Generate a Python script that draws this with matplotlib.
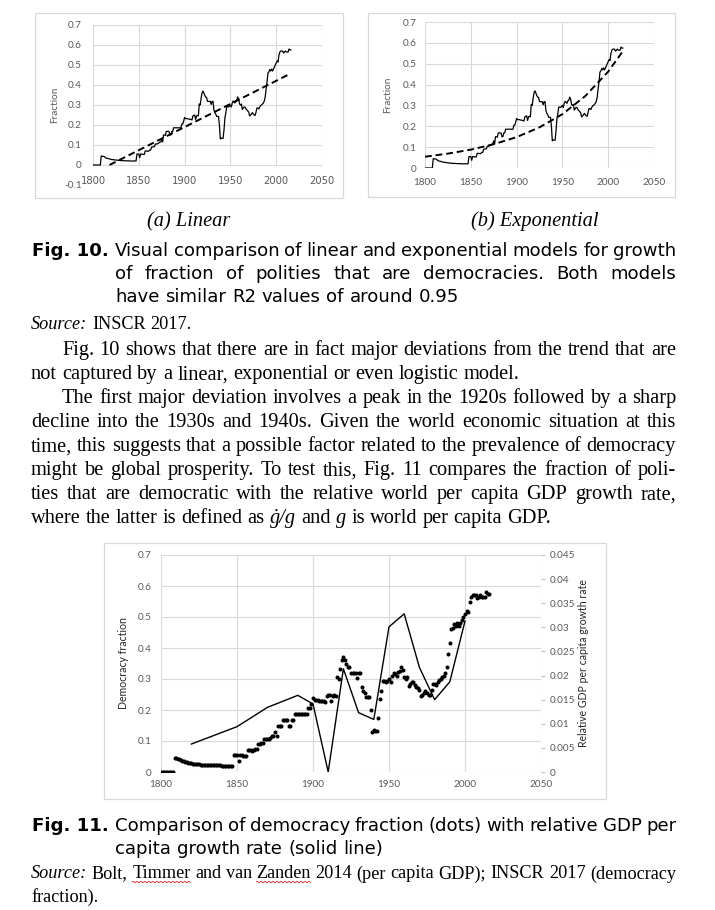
import numpy as np
import matplotlib
matplotlib.use("Agg")
import matplotlib.pyplot as plt
from matplotlib.patches import Rectangle
from matplotlib.lines import Line2D

# ---------------- data ----------------
years = list(range(1800, 2017))
democracy_fraction = [
    # 1800-1809
    0, 0, 0, 0, 0, 0, 0, 0, 0, 0.045,
    # 1810-1819
    0.044, 0.043, 0.043, 0.040, 0.035, 0.034, 0.033, 0.032, 0.030, 0.029,
    # 1820-1829
    0.028, 0.027, 0.027, 0.026, 0.025, 0.025, 0.024, 0.024, 0.023, 0.023,
    # 1830-1839
    0.022, 0.022, 0.022, 0.022, 0.021, 0.021, 0.021, 0.021, 0.021, 0.021,
    # 1840-1849
    0.020, 0.020, 0.020, 0.020, 0.020, 0.020, 0.020, 0.020, 0.055, 0.055,
    # 1850-1859
    0.055, 0.037, 0.055, 0.055, 0.053, 0.053, 0.053, 0.070, 0.070, 0.070,
    # 1860-1869
    0.068, 0.070, 0.075, 0.075, 0.090, 0.090, 0.092, 0.092, 0.105, 0.105,
    # 1870-1879
    0.105, 0.108, 0.110, 0.115, 0.115, 0.130, 0.115, 0.150, 0.150, 0.148,
    # 1880-1889
    0.168, 0.168, 0.168, 0.168, 0.150, 0.150, 0.168, 0.168, 0.186, 0.186,
    # 1890-1899
    0.186, 0.186, 0.186, 0.186, 0.186, 0.186, 0.186, 0.205, 0.205, 0.220,
    # 1900-1909
    0.238, 0.232, 0.232, 0.232, 0.230, 0.230, 0.228, 0.228, 0.225, 0.245,
    # 1910-1919
    0.248, 0.250, 0.228, 0.245, 0.248, 0.245, 0.305, 0.300, 0.333, 0.360,
    # 1920-1929
    0.370, 0.360, 0.348, 0.340, 0.338, 0.318, 0.318, 0.318, 0.318, 0.303,
    # 1930-1939
    0.318, 0.318, 0.275, 0.262, 0.255, 0.243, 0.243, 0.243, 0.200, 0.130,
    # 1940-1949
    0.135, 0.133, 0.133, 0.175, 0.235, 0.260, 0.292, 0.292, 0.290, 0.295,
    # 1950-1959
    0.300, 0.290, 0.310, 0.320, 0.315, 0.310, 0.322, 0.325, 0.340, 0.330,
    # 1960-1969
    0.305, 0.300, 0.305, 0.278, 0.285, 0.290, 0.290, 0.280, 0.275, 0.270,
    # 1970-1979
    0.265, 0.245, 0.250, 0.255, 0.262, 0.255, 0.250, 0.248, 0.265, 0.285,
    # 1980-1989
    0.285, 0.280, 0.290, 0.298, 0.300, 0.305, 0.310, 0.320, 0.340, 0.380,
    # 1990-1999
    0.415, 0.460, 0.465, 0.478, 0.470, 0.480, 0.470, 0.480, 0.490, 0.500,
    # 2000-2009
    0.510, 0.520, 0.515, 0.550, 0.565, 0.570, 0.570, 0.570, 0.560, 0.565,
    # 2010-2016
    0.570, 0.565, 0.565, 0.565, 0.580, 0.575, 0.575,
]
assert len(democracy_fraction) == len(years)

# linear trend (Fig. 10a), read at its ends
linear_trend_years = [1818, 2016]
linear_trend_values = [0.0, 0.458]
# exponential trend (Fig. 10b), read at several years
exp_trend_years = [1800, 1825, 1850, 1875, 1900, 1925, 1950, 1975, 2000, 2016]
exp_trend_values = [0.054, 0.069, 0.088, 0.114, 0.148, 0.195, 0.258, 0.345, 0.462, 0.560]

# relative world per capita GDP growth rate (Fig. 11, right axis)
gdp_years = [1820, 1850, 1870, 1890, 1900, 1910, 1920, 1930, 1940, 1950, 1960, 1970, 1980, 1990, 2000]
gdp_growth = [0.0058, 0.0094, 0.0134, 0.0159, 0.0141, 0.0, 0.0214, 0.0123, 0.0109, 0.0301, 0.0328,
              0.0217, 0.0150, 0.0187, 0.0313]

x_ticks = [1800, 1850, 1900, 1950, 2000, 2050]
x_tick_labels = ["1800", "1850", "1900", "1950", "2000", "2050"]
frac_ticks = [-0.1, 0, 0.1, 0.2, 0.3, 0.4, 0.5, 0.6, 0.7]
frac_tick_labels = ["-0.1", "0", "0.1", "0.2", "0.3", "0.4", "0.5", "0.6", "0.7"]
gdp_ticks = [0, 0.005, 0.01, 0.015, 0.02, 0.025, 0.03, 0.035, 0.04, 0.045]
gdp_tick_labels = ["0", "0.005", "0.01", "0.015", "0.02", "0.025", "0.03", "0.035", "0.04", "0.045"]

# ---------------- page ----------------
W, H = 715, 910
fig = plt.figure(figsize=(W / 100, H / 100), dpi=100)
fig.patch.set_facecolor("white")
R = fig.canvas.get_renderer()

GRID = "#D9D9D9"
TXT = "#595959"
CHART_FONT = "Lato"


def axes_px(x0, y0, x1, y1):
    return fig.add_axes([x0 / W, 1 - y1 / H, (x1 - x0) / W, (y1 - y0) / H])


def box(x0, y0, x1, y1):
    fig.add_artist(Rectangle((x0 / W, 1 - y1 / H), (x1 - x0) / W, (y1 - y0) / H,
                             transform=fig.transFigure, fill=False, ec=GRID, lw=0.9))


def tw(s, **kw):
    t = fig.text(0, 0, s, **kw)
    w = t.get_window_extent(R).width
    t.remove()
    return w


def baseline(yc, fs):
    return yc + 0.30 * fs * 100 / 72


def line(words, x0, x1, yc, justify, kw):
    yb = baseline(yc, kw["fontsize"])
    ws = [tw(w, **{**kw, **e}) for w, e in words]
    if justify and len(words) > 1:
        gap = (x1 - x0 - sum(ws)) / (len(words) - 1)
    else:
        gap = tw("a a", **kw) - tw("aa", **kw)
    x = x0
    pos = []
    for (w, e), wd in zip(words, ws):
        fig.text(x / W, 1 - yb / H, w, ha="left", va="baseline", **{**kw, **e})
        pos.append((x, wd, yb))
        x += wd + gap
    return pos


def plain(s):
    return [(w, {}) for w in s.split()]


def style_chart(ax, ylabels_ticks, ylabels):
    for s in ax.spines.values():
        s.set_visible(False)
    ax.set_xticks(x_ticks, x_tick_labels)
    ax.set_yticks(ylabels_ticks, ylabels)
    for lab in ax.get_xticklabels() + ax.get_yticklabels():
        lab.set_fontfamily(CHART_FONT)
    ax.tick_params(length=0, labelsize=7.2, labelcolor=TXT)


# ---------- Fig. 10 (a) ----------
box(35, 13, 343, 198)
axa = axes_px(93, 25, 322, 185)
axa.set_xlim(1800, 2050)
axa.set_ylim(-0.1, 0.7)
for v in frac_ticks[1:]:
    axa.axhline(v, color=GRID, lw=0.8, zorder=0)
axa.vlines(x_ticks, 0, 0.7, color=GRID, lw=0.8, zorder=0)
axa.plot(years, democracy_fraction, color="black", lw=0.9)
axa.plot(linear_trend_years, linear_trend_values, color="black", lw=1.4, ls=(0, (3.5, 2)))
style_chart(axa, frac_ticks, frac_tick_labels)
axa.spines["bottom"].set_position(("data", 0))
axa.tick_params(axis="x", pad=8)
axa.tick_params(axis="y", pad=8)
axa.set_ylabel("Fraction", fontsize=7.2, color=TXT, family=CHART_FONT)
axa.yaxis.set_label_coords(-0.15, 0.5)

# ---------- Fig. 10 (b) ----------
box(368, 13, 675, 197)
axb = axes_px(425, 22, 654, 168)
axb.set_xlim(1800, 2050)
axb.set_ylim(0, 0.7)
for v in frac_ticks[1:]:
    axb.axhline(v, color=GRID, lw=0.8, zorder=0)
axb.vlines(x_ticks, 0, 0.7, color=GRID, lw=0.8, zorder=0)
axb.plot(years, democracy_fraction, color="black", lw=0.9)
axb.plot(exp_trend_years, exp_trend_values, color="black", lw=1.4, ls=(0, (3.5, 2)))
style_chart(axb, frac_ticks[1:], frac_tick_labels[1:])
axb.tick_params(axis="x", pad=7)
axb.tick_params(axis="y", pad=6)
axb.set_ylabel("Fraction", fontsize=7.2, color=TXT, family=CHART_FONT)
axb.yaxis.set_label_coords(-0.145, 0.5)

# ---------- Fig. 11 ----------
box(104, 543, 606, 799)
axc = axes_px(161, 555, 541, 772)
axc.set_xlim(1800, 2050)
axc.set_ylim(0, 0.7)
for v in frac_ticks[1:]:
    axc.axhline(v, color=GRID, lw=0.8, zorder=0)
axc.vlines(x_ticks, 0, 0.7, color=GRID, lw=0.8, zorder=0)
axc.plot(years, democracy_fraction, ls="none", marker="o", ms=2.9, mfc="black", mec="black", mew=0)
style_chart(axc, frac_ticks[1:], frac_tick_labels[1:])
axc.tick_params(axis="x", pad=6)
axc.tick_params(axis="y", pad=7)
axc.set_ylabel("Democracy fraction", fontsize=7.6, color="#262626", family=CHART_FONT)
axc.yaxis.set_label_coords(-0.085, 0.5)

axd = axc.twinx()
axd.set_ylim(0, 0.045)
axd.plot(gdp_years, gdp_growth, color="black", lw=1.0)
for s in axd.spines.values():
    s.set_visible(False)
axd.set_yticks(gdp_ticks, gdp_tick_labels)
for lab in axd.get_yticklabels():
    lab.set_fontfamily(CHART_FONT)
axd.tick_params(axis="y", length=3, color="#BFBFBF", labelsize=7.2, labelcolor=TXT, pad=3)
axd.set_ylabel("Relative GDP per capita growth rate", fontsize=7.6, color="#262626", family=CHART_FONT)
axd.yaxis.set_label_coords(1.098, 0.5)

# ---------------- text ----------------
SERIF = {"family": "Liberation Serif", "color": "black"}
SANS = {"family": "DejaVu Sans", "color": "black"}

fs_serif = 10 * 488 / tw("not captured by a linear, exponential or even logistic model.", fontsize=10, **SERIF)
fs_sans = 10 * 345 / tw("have similar R2 values of around 0.95", fontsize=10, **SANS)
SERIF["fontsize"] = fs_serif
SANS["fontsize"] = fs_sans
SRC = dict(SERIF)
SRC["fontsize"] = fs_serif * 0.9
IT = {"style": "italic"}

L, RGT = 31, 676
CAP_X = 115
LABEL_END = 109

# sub captions
for txt, xc in [("(a) Linear", 189), ("(b) Exponential", 535)]:
    fig.text(xc / W, 1 - baseline(220, fs_serif) / H, txt, ha="center", va="baseline",
             style="italic", **SERIF)

# Fig. 10 caption
fig.text(LABEL_END / W, 1 - baseline(251, fs_sans) / H, "Fig. 10.", ha="right", va="baseline",
         weight="bold", **SANS)
line(plain("Visual comparison of linear and exponential models for growth"), CAP_X, RGT, 251, True, SANS)
line(plain("of fraction of polities that are democracies. Both models"), CAP_X, RGT, 274, True, SANS)
line(plain("have similar R2 values of around 0.95"), CAP_X, RGT, 297, False, SANS)

line([("Source:", IT)] + plain("INSCR 2017."), L, RGT, 324, False, SRC)

# paragraph
pl = 24.0
y0 = 349
line(plain("Fig. 10 shows that there are in fact major deviations from the trend that are"), 62, RGT, y0, True, SERIF)
line(plain("not captured by a linear, exponential or even logistic model."), L, RGT, y0 + pl, False, SERIF)
line(plain("The first major deviation involves a peak in the 1920s followed by a sharp"), 62, RGT, y0 + 2 * pl, True, SERIF)
line(plain("decline into the 1930s and 1940s. Given the world economic situation at this"), L, RGT, y0 + 3 * pl, True, SERIF)
line(plain("time, this suggests that a possible factor related to the prevalence of democracy"), L, RGT, y0 + 4 * pl, True, SERIF)
line(plain("might be global prosperity. To test this, Fig. 11 compares the fraction of poli-"), L, RGT, y0 + 5 * pl, True, SERIF)
line(plain("ties that are democratic with the relative world per capita GDP growth rate,"), L, RGT, y0 + 6 * pl, True, SERIF)
line(plain("where the latter is defined as") + [("\u0121/g", IT), ("and", {}), ("g", IT)]
     + plain("is world per capita GDP."), L, RGT, y0 + 7 * pl, False, SERIF)

# Fig. 11 caption
fig.text(LABEL_END / W, 1 - baseline(826, fs_sans) / H, "Fig. 11.", ha="right", va="baseline",
         weight="bold", **SANS)
line(plain("Comparison of democracy fraction (dots) with relative GDP per"), CAP_X, RGT, 826, True, SANS)
line(plain("capita growth rate (solid line)"), CAP_X, RGT, 849, False, SANS)

pos = line([("Source:", IT)] + plain("Bolt, Timmer and van Zanden 2014 (per capita GDP); INSCR 2017 (democracy"),
           L, RGT, 873, True, SRC)
line(plain("fraction)."), L, RGT, 896, False, SRC)

# spell-check squiggles under "Timmer" and "Zanden"
for idx in (2, 5):
    x, wd, yb = pos[idx]
    xs = np.arange(x, x + wd + 0.5, 1.0)
    ys = yb + 3.0 + 1.0 * ((np.arange(len(xs)) % 4) >= 2)
    fig.add_artist(Line2D(xs / W, 1 - ys / H, transform=fig.transFigure, color="#E02020", lw=0.6))

fig.savefig("out.png", dpi=100, facecolor="white")
